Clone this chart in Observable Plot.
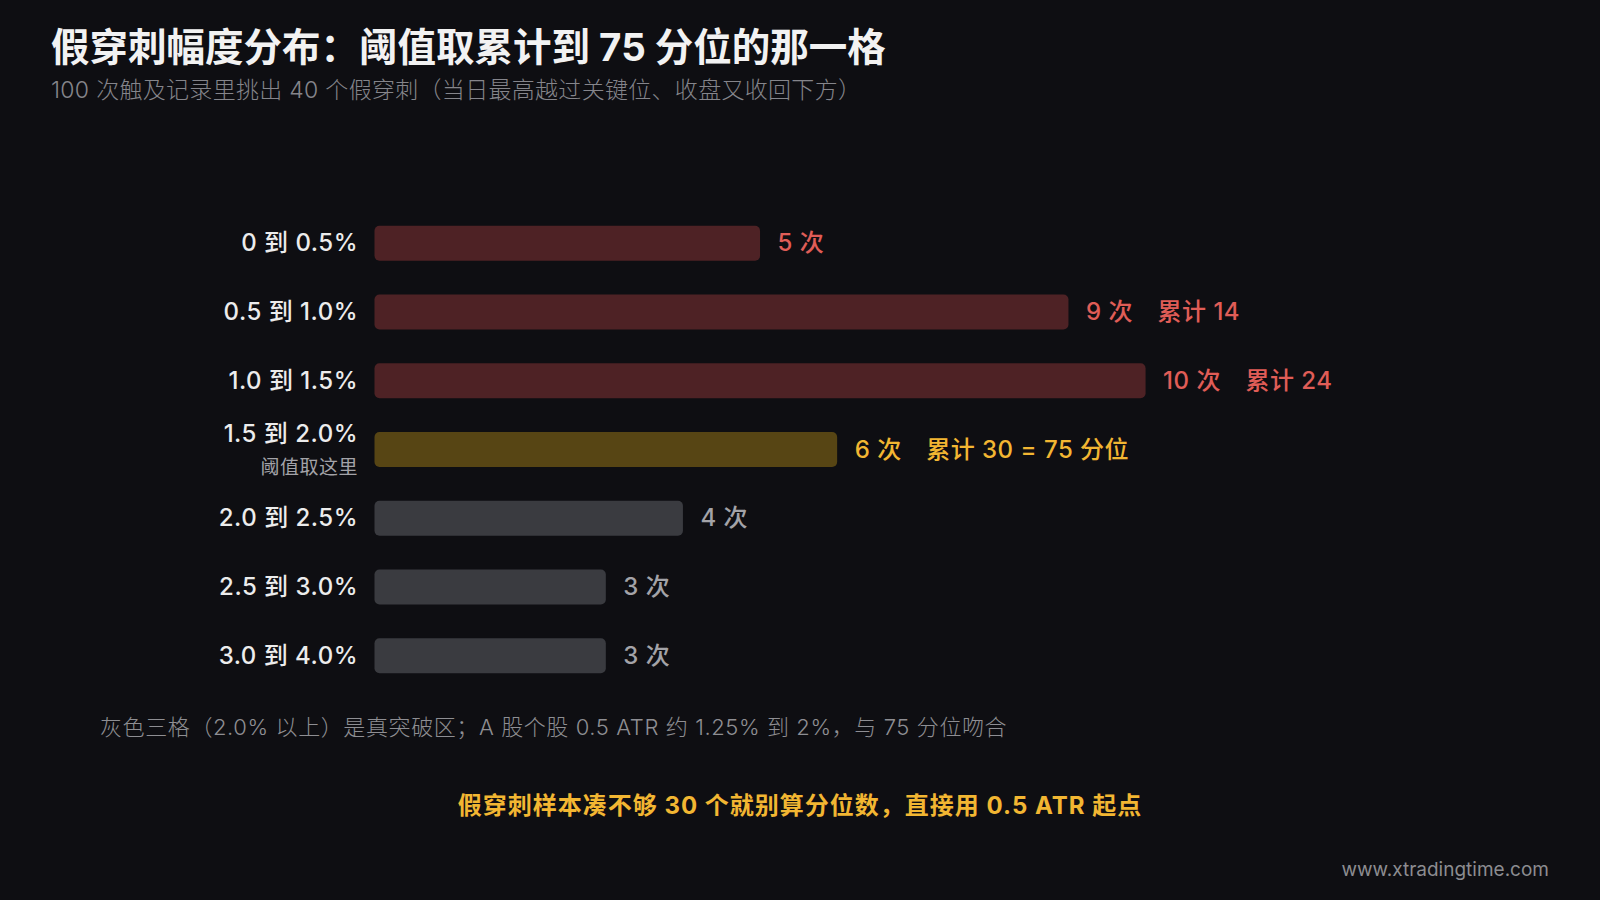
<!DOCTYPE html>
<html>
<head>
<meta charset="utf-8">
<script src="https://cdn.jsdelivr.net/npm/d3@7"></script>
<script src="https://cdn.jsdelivr.net/npm/@observablehq/plot@0.6"></script>
<style>
  html, body { margin: 0; padding: 0; background: #0e0e12; }
  #page { position: relative; width: 1600px; height: 900px; background: #0e0e12; overflow: hidden;
          font-family: Inter, "Noto Sans CJK SC", "Noto Sans", sans-serif; }
  #chart { position: absolute; left: 0; top: 0; }
  .txt { position: absolute; white-space: nowrap; }
  #title { left: 51px; top: 16px; font-size: 38.5px; font-weight: 700; color: #f2f2f2; }
  #subtitle { left: 51px; top: 71px; font-size: 23px; letter-spacing: 0.3px; font-weight: 300; color: #85858b; }
  #note { left: 100px; top: 709px; font-size: 22px; letter-spacing: 0.6px; font-weight: 300; color: #8e8e93; }
  #takeaway { left: 0; width: 1600px; text-align: center; top: 786px; font-size: 24px; letter-spacing: 1px; font-weight: 700; color: #f2b632; }
  #mark { right: 51px; top: 858px; font-size: 19px; color: #8c8c90; }
</style>
</head>
<body>
<div id="page">
  <div id="chart"></div>
  <div class="txt" id="title">假穿刺幅度分布：阈值取累计到 75 分位的那一格</div>
  <div class="txt" id="subtitle">100 次触及记录里挑出 40 个假穿刺（当日最高越过关键位、收盘又收回下方）</div>
  <div class="txt" id="note">灰色三格（2.0% 以上）是真突破区；A 股个股 0.5 ATR 约 1.25% 到 2%，与 75 分位吻合</div>
  <div class="txt" id="takeaway">假穿刺样本凑不够 30 个就别算分位数，直接用 0.5 ATR 起点</div>
  <div class="txt" id="mark">www.xtradingtime.com</div>
</div>
<script>
// ---- data ----
const categories = ["0 到 0.5%", "0.5 到 1.0%", "1.0 到 1.5%", "1.5 到 2.0%", "2.0 到 2.5%", "2.5 到 3.0%", "3.0 到 4.0%"];
const counts = [5, 9, 10, 6, 4, 3, 3];
const cumulative = [null, 14, 24, 30, null, null, null];
const groups = ["below", "below", "below", "threshold", "above", "above", "above"];
const extraNote = ["", "", "", " = 75 分位", "", "", ""];
const thresholdSubLabel = "阈值取这里";

const barColor = { below: "#4e2225", threshold: "#574514", above: "#3a3b40" };
const textColor = { below: "#e05d57", threshold: "#f2b632", above: "#a3a3a8" };

const rows = categories.map((c, i) => ({
  category: c,
  count: counts[i],
  group: groups[i],
  label: `${counts[i]} 次` + (cumulative[i] != null ? `\u3000累计 ${cumulative[i]}${extraNote[i]}` : "")
}));

const thresholdRow = rows.filter(d => d.group === "threshold");
const normalRows = rows.filter(d => d.group !== "threshold");
const font = "Inter, 'Noto Sans CJK SC', 'Noto Sans', sans-serif";

const chart = Plot.plot({
  width: 1600,
  height: 900,
  marginLeft: 374.5,
  marginRight: 146,
  marginTop: 192,
  marginBottom: 193,
  style: { background: "transparent", fontFamily: font, letterSpacing: "0.5px" },
  x: { domain: [0, 14], axis: null },
  y: { domain: categories, padding: 0.49, round: false, axis: null },
  marks: [
    Plot.barX(rows, {
      x: "count", y: "category",
      fill: d => barColor[d.group],
      rx: 5
    }),
    Plot.text(rows, {
      x: "count", y: "category", text: "label",
      dx: 17, textAnchor: "start",
      fill: d => textColor[d.group],
      fontSize: 24, fontWeight: 500
    }),
    Plot.text(normalRows, {
      y: "category", text: "category",
      frameAnchor: "left", dx: -17, textAnchor: "end",
      fill: "#ececec", fontSize: 24, fontWeight: 500
    }),
    Plot.text(thresholdRow, {
      y: "category", text: "category",
      frameAnchor: "left", dx: -17, dy: -16, textAnchor: "end",
      fill: "#ececec", fontSize: 24, fontWeight: 500
    }),
    Plot.text(thresholdRow, {
      y: "category", text: () => thresholdSubLabel,
      frameAnchor: "left", dx: -17, dy: 18, textAnchor: "end",
      fill: "#a3a3a8", fontSize: 19, fontWeight: 400
    })
  ]
});
document.getElementById("chart").appendChild(chart);
</script>
</body>
</html>
